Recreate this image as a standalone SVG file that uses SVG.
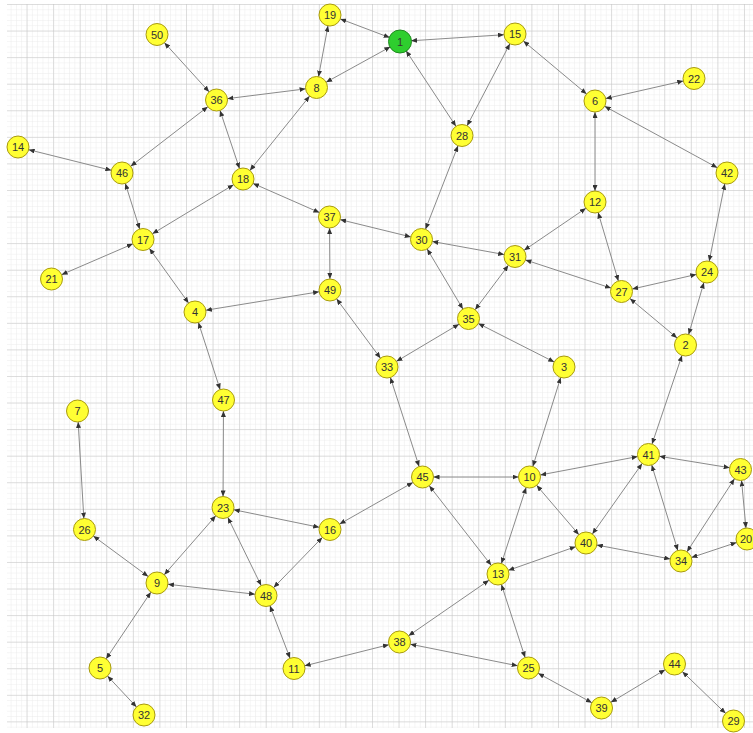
<svg xmlns="http://www.w3.org/2000/svg" width="753" height="733" viewBox="0 0 753 733">
<style>
.e{stroke:#8a8a8a;stroke-width:1;fill:none;marker-start:url(#ah);marker-end:url(#ah)}
.n circle{fill:#ffff33;stroke:#a89a10;stroke-width:1}
.n.g circle{fill:#2fce2f;stroke:#1f8a1f}
.n text{font-family:"Liberation Sans",Arial,sans-serif;font-size:11px;fill:#333;text-anchor:middle;dominant-baseline:central}
</style>
<defs>
<pattern id="minor" patternUnits="userSpaceOnUse" x="0" y="4" width="5.314" height="5.314">
<path d="M0,0H5.314M0,0V5.314" stroke="#ebebeb" stroke-width="1" fill="none"/>
</pattern>
<pattern id="major" patternUnits="userSpaceOnUse" x="0" y="4" width="26.57" height="26.57">
<path d="M0,0H26.57M0,0V26.57" stroke="#c4c4c4" stroke-width="1" fill="none"/>
</pattern>
<marker id="ah" viewBox="0 0 6 5" refX="17" refY="2.5" markerWidth="6" markerHeight="5" markerUnits="userSpaceOnUse" orient="auto-start-reverse">
<path d="M0,0L6,2.5L0,5z" fill="#333"/>
</marker>
</defs>
<rect width="753" height="733" fill="#fff"/>
<rect x="7" y="4" width="746" height="724" fill="url(#minor)"/>
<rect x="7" y="4" width="746" height="724" fill="url(#major)"/>
<g id="connectors">
<line class="e" x1="400" y1="41.5" x2="330" y2="15"/>
<line class="e" x1="400" y1="41.5" x2="515" y2="34"/>
<line class="e" x1="400" y1="41.5" x2="316.5" y2="87.5"/>
<line class="e" x1="400" y1="41.5" x2="462" y2="135.5"/>
<line class="e" x1="515" y1="34" x2="462" y2="135.5"/>
<line class="e" x1="515" y1="34" x2="595" y2="101"/>
<line class="e" x1="595" y1="101" x2="694" y2="78.5"/>
<line class="e" x1="595" y1="101" x2="727" y2="173"/>
<line class="e" x1="595" y1="101" x2="595" y2="202"/>
<line class="e" x1="330" y1="15" x2="316.5" y2="87.5"/>
<line class="e" x1="316.5" y1="87.5" x2="216.5" y2="100"/>
<line class="e" x1="316.5" y1="87.5" x2="243" y2="179"/>
<line class="e" x1="157" y1="34.5" x2="216.5" y2="100"/>
<line class="e" x1="216.5" y1="100" x2="122" y2="173"/>
<line class="e" x1="216.5" y1="100" x2="243" y2="179"/>
<line class="e" x1="18" y1="147" x2="122" y2="173"/>
<line class="e" x1="122" y1="173" x2="143" y2="239.5"/>
<line class="e" x1="243" y1="179" x2="143" y2="239.5"/>
<line class="e" x1="243" y1="179" x2="329.5" y2="217"/>
<line class="e" x1="143" y1="239.5" x2="51.5" y2="279"/>
<line class="e" x1="143" y1="239.5" x2="195" y2="312"/>
<line class="e" x1="462" y1="135.5" x2="421.5" y2="239.5"/>
<line class="e" x1="329.5" y1="217" x2="421.5" y2="239.5"/>
<line class="e" x1="329.5" y1="217" x2="330" y2="290"/>
<line class="e" x1="421.5" y1="239.5" x2="515" y2="256.5"/>
<line class="e" x1="421.5" y1="239.5" x2="468.5" y2="318.5"/>
<line class="e" x1="515" y1="256.5" x2="595" y2="202"/>
<line class="e" x1="515" y1="256.5" x2="621.5" y2="291.5"/>
<line class="e" x1="515" y1="256.5" x2="468.5" y2="318.5"/>
<line class="e" x1="595" y1="202" x2="621.5" y2="291.5"/>
<line class="e" x1="727" y1="173" x2="707" y2="272"/>
<line class="e" x1="707" y1="272" x2="621.5" y2="291.5"/>
<line class="e" x1="707" y1="272" x2="685.5" y2="345"/>
<line class="e" x1="621.5" y1="291.5" x2="685.5" y2="345"/>
<line class="e" x1="330" y1="290" x2="195" y2="312"/>
<line class="e" x1="330" y1="290" x2="387" y2="367"/>
<line class="e" x1="195" y1="312" x2="223.5" y2="400"/>
<line class="e" x1="468.5" y1="318.5" x2="387" y2="367"/>
<line class="e" x1="468.5" y1="318.5" x2="564" y2="367"/>
<line class="e" x1="387" y1="367" x2="422.5" y2="477"/>
<line class="e" x1="564" y1="367" x2="529.5" y2="477"/>
<line class="e" x1="685.5" y1="345" x2="648.5" y2="454.5"/>
<line class="e" x1="223.5" y1="400" x2="223" y2="507.5"/>
<line class="e" x1="77.5" y1="411" x2="84.5" y2="529.5"/>
<line class="e" x1="422.5" y1="477" x2="529.5" y2="477"/>
<line class="e" x1="422.5" y1="477" x2="330" y2="529.5"/>
<line class="e" x1="422.5" y1="477" x2="498" y2="574"/>
<line class="e" x1="529.5" y1="477" x2="648.5" y2="454.5"/>
<line class="e" x1="529.5" y1="477" x2="498" y2="574"/>
<line class="e" x1="529.5" y1="477" x2="586" y2="543"/>
<line class="e" x1="648.5" y1="454.5" x2="740.5" y2="469.5"/>
<line class="e" x1="648.5" y1="454.5" x2="586" y2="543"/>
<line class="e" x1="648.5" y1="454.5" x2="681" y2="561"/>
<line class="e" x1="740.5" y1="469.5" x2="681" y2="561"/>
<line class="e" x1="740.5" y1="469.5" x2="747" y2="539"/>
<line class="e" x1="747" y1="539" x2="681" y2="561"/>
<line class="e" x1="586" y1="543" x2="681" y2="561"/>
<line class="e" x1="586" y1="543" x2="498" y2="574"/>
<line class="e" x1="223" y1="507.5" x2="330" y2="529.5"/>
<line class="e" x1="223" y1="507.5" x2="157" y2="583"/>
<line class="e" x1="223" y1="507.5" x2="266" y2="595.5"/>
<line class="e" x1="330" y1="529.5" x2="266" y2="595.5"/>
<line class="e" x1="84.5" y1="529.5" x2="157" y2="583"/>
<line class="e" x1="157" y1="583" x2="266" y2="595.5"/>
<line class="e" x1="157" y1="583" x2="100" y2="668"/>
<line class="e" x1="100" y1="668" x2="144" y2="715"/>
<line class="e" x1="266" y1="595.5" x2="294" y2="668.5"/>
<line class="e" x1="294" y1="668.5" x2="399.5" y2="642"/>
<line class="e" x1="399.5" y1="642" x2="498" y2="574"/>
<line class="e" x1="399.5" y1="642" x2="528.5" y2="668"/>
<line class="e" x1="498" y1="574" x2="528.5" y2="668"/>
<line class="e" x1="528.5" y1="668" x2="601.5" y2="708"/>
<line class="e" x1="601.5" y1="708" x2="674.5" y2="664"/>
<line class="e" x1="674.5" y1="664" x2="733.5" y2="721"/>
</g>
<g id="n1" class="n g"><circle cx="400" cy="41.5" r="11.5"/><text x="400" y="41.5">1</text></g>
<g id="n19" class="n"><circle cx="330" cy="15" r="11"/><text x="330" y="15">19</text></g>
<g id="n15" class="n"><circle cx="515" cy="34" r="11"/><text x="515" y="34">15</text></g>
<g id="n50" class="n"><circle cx="157" cy="34.5" r="11"/><text x="157" y="34.5">50</text></g>
<g id="n22" class="n"><circle cx="694" cy="78.5" r="11"/><text x="694" y="78.5">22</text></g>
<g id="n8" class="n"><circle cx="316.5" cy="87.5" r="11"/><text x="316.5" y="87.5">8</text></g>
<g id="n36" class="n"><circle cx="216.5" cy="100" r="11"/><text x="216.5" y="100">36</text></g>
<g id="n6" class="n"><circle cx="595" cy="101" r="11"/><text x="595" y="101">6</text></g>
<g id="n28" class="n"><circle cx="462" cy="135.5" r="11"/><text x="462" y="135.5">28</text></g>
<g id="n14" class="n"><circle cx="18" cy="147" r="11"/><text x="18" y="147">14</text></g>
<g id="n46" class="n"><circle cx="122" cy="173" r="11"/><text x="122" y="173">46</text></g>
<g id="n18" class="n"><circle cx="243" cy="179" r="11"/><text x="243" y="179">18</text></g>
<g id="n42" class="n"><circle cx="727" cy="173" r="11"/><text x="727" y="173">42</text></g>
<g id="n12" class="n"><circle cx="595" cy="202" r="11"/><text x="595" y="202">12</text></g>
<g id="n37" class="n"><circle cx="329.5" cy="217" r="11"/><text x="329.5" y="217">37</text></g>
<g id="n17" class="n"><circle cx="143" cy="239.5" r="11"/><text x="143" y="239.5">17</text></g>
<g id="n30" class="n"><circle cx="421.5" cy="239.5" r="11"/><text x="421.5" y="239.5">30</text></g>
<g id="n31" class="n"><circle cx="515" cy="256.5" r="11"/><text x="515" y="256.5">31</text></g>
<g id="n24" class="n"><circle cx="707" cy="272" r="11"/><text x="707" y="272">24</text></g>
<g id="n21" class="n"><circle cx="51.5" cy="279" r="11"/><text x="51.5" y="279">21</text></g>
<g id="n27" class="n"><circle cx="621.5" cy="291.5" r="11"/><text x="621.5" y="291.5">27</text></g>
<g id="n49" class="n"><circle cx="330" cy="290" r="11"/><text x="330" y="290">49</text></g>
<g id="n4" class="n"><circle cx="195" cy="312" r="11"/><text x="195" y="312">4</text></g>
<g id="n35" class="n"><circle cx="468.5" cy="318.5" r="11"/><text x="468.5" y="318.5">35</text></g>
<g id="n2" class="n"><circle cx="685.5" cy="345" r="11"/><text x="685.5" y="345">2</text></g>
<g id="n33" class="n"><circle cx="387" cy="367" r="11"/><text x="387" y="367">33</text></g>
<g id="n3" class="n"><circle cx="564" cy="367" r="11"/><text x="564" y="367">3</text></g>
<g id="n47" class="n"><circle cx="223.5" cy="400" r="11"/><text x="223.5" y="400">47</text></g>
<g id="n7" class="n"><circle cx="77.5" cy="411" r="11"/><text x="77.5" y="411">7</text></g>
<g id="n45" class="n"><circle cx="422.5" cy="477" r="11"/><text x="422.5" y="477">45</text></g>
<g id="n10" class="n"><circle cx="529.5" cy="477" r="11"/><text x="529.5" y="477">10</text></g>
<g id="n41" class="n"><circle cx="648.5" cy="454.5" r="11"/><text x="648.5" y="454.5">41</text></g>
<g id="n43" class="n"><circle cx="740.5" cy="469.5" r="11"/><text x="740.5" y="469.5">43</text></g>
<g id="n23" class="n"><circle cx="223" cy="507.5" r="11"/><text x="223" y="507.5">23</text></g>
<g id="n16" class="n"><circle cx="330" cy="529.5" r="11"/><text x="330" y="529.5">16</text></g>
<g id="n26" class="n"><circle cx="84.5" cy="529.5" r="11"/><text x="84.5" y="529.5">26</text></g>
<g id="n20" class="n"><circle cx="747" cy="539" r="11"/><text x="746" y="539">20</text></g>
<g id="n40" class="n"><circle cx="586" cy="543" r="11"/><text x="586" y="543">40</text></g>
<g id="n34" class="n"><circle cx="681" cy="561" r="11"/><text x="681" y="561">34</text></g>
<g id="n13" class="n"><circle cx="498" cy="574" r="11"/><text x="498" y="574">13</text></g>
<g id="n9" class="n"><circle cx="157" cy="583" r="11"/><text x="157" y="583">9</text></g>
<g id="n48" class="n"><circle cx="266" cy="595.5" r="11"/><text x="266" y="595.5">48</text></g>
<g id="n38" class="n"><circle cx="399.5" cy="642" r="11"/><text x="399.5" y="642">38</text></g>
<g id="n11" class="n"><circle cx="294" cy="668.5" r="11"/><text x="294" y="668.5">11</text></g>
<g id="n5" class="n"><circle cx="100" cy="668" r="11"/><text x="100" y="668">5</text></g>
<g id="n25" class="n"><circle cx="528.5" cy="668" r="11"/><text x="528.5" y="668">25</text></g>
<g id="n44" class="n"><circle cx="674.5" cy="664" r="11"/><text x="674.5" y="664">44</text></g>
<g id="n39" class="n"><circle cx="601.5" cy="708" r="11"/><text x="601.5" y="708">39</text></g>
<g id="n32" class="n"><circle cx="144" cy="715" r="11"/><text x="144" y="715">32</text></g>
<g id="n29" class="n"><circle cx="733.5" cy="721" r="11"/><text x="733.5" y="721">29</text></g>
</svg>
